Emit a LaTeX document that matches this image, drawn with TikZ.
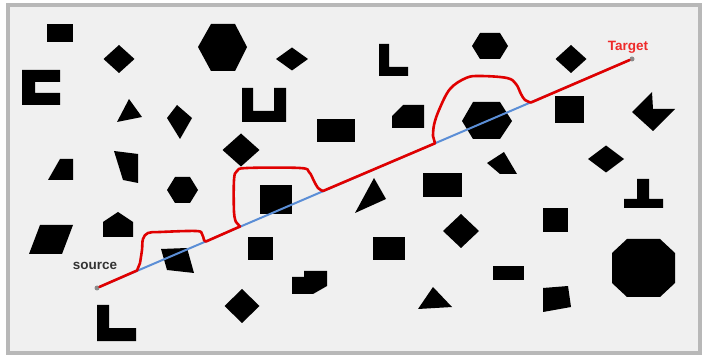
\documentclass[tikz,border=0pt]{standalone}
\usepackage{fontspec}
\newfontfamily\lblfont{Liberation Sans}
\usetikzlibrary{positioning}
\definecolor{cField}{HTML}{F0F0F0}
\definecolor{cFrame}{HTML}{B8B8B8}
\definecolor{cDirect}{HTML}{5B8ED6}
\definecolor{cRoute}{HTML}{E00000}
\definecolor{cTarget}{HTML}{EE2A2A}
\definecolor{cSource}{HTML}{333333}
\definecolor{cDot}{HTML}{8A8A8A}

\begin{document}
\begin{tikzpicture}[
    x=1pt, y=-1pt,
    obst/.style={fill=black},
    frame/.style={draw=cFrame, line width=3.5pt, fill=cField},
    direct/.style={draw=cDirect, line width=2pt},
    route/.style={draw=cRoute, line width=2.6pt, line cap=round, line join=round},
    endpt/.style={circle, fill=cDot, inner sep=0pt, minimum size=5pt},
    lbl/.style={font=\lblfont\bfseries\fontsize{13.5}{15}\selectfont, inner sep=0pt}
]

\fill[white] (0,0) rectangle (710,358);
\useasboundingbox (0,0) rectangle (710,358);
\draw[frame] (8,5) rectangle (700,353);

% obstacles, left to right, row by row
\fill[obst] (47,24) rectangle (73,42);
\fill[obst] (103.5,59) -- (119,45) -- (134.5,59) -- (119,73) -- cycle;
\fill[obst] (198,47) -- (211,24) -- (235,24) -- (247,47) -- (235,71) -- (211,71) -- cycle;
\fill[obst] (276,59) -- (292,47.5) -- (308,59) -- (292,70.5) -- cycle;
\fill[obst] (379,44) -- (389,44) -- (389,67) -- (408,67) -- (408,76) -- (379,76) -- cycle;
\fill[obst] (472,46) -- (480,33) -- (500,33) -- (508,46) -- (500,59) -- (480,59) -- cycle;
\fill[obst] (555.5,59) -- (571,45) -- (586.5,59) -- (571,73) -- cycle;

\fill[obst] (22,70) -- (60,70) -- (60,82) -- (35,82) -- (35,93) -- (60,93) -- (60,105) -- (22,105) -- cycle;
\fill[obst] (129,99) -- (142,117) -- (117,122) -- cycle;
\fill[obst] (177,105) -- (192,118) -- (180,139) -- (167,118) -- cycle;
\fill[obst] (242,88) -- (253,88) -- (253,111) -- (274,111) -- (274,88) -- (286,88) -- (286,122) -- (242,122) -- cycle;
\fill[obst] (317,119) rectangle (355,142);
\fill[obst] (392,116) -- (403,105) -- (424,105) -- (424,128) -- (392,128) -- cycle;
\fill[obst] (462,121) -- (473,102) -- (500,102) -- (512,121) -- (500,139) -- (473,139) -- cycle;
\fill[obst] (555,96) rectangle (584,123);
\fill[obst] (652,92) -- (653,109) -- (675,109) -- (653,131) -- (632,112) -- cycle;

\fill[obst] (60,159) -- (73,159) -- (73,180) -- (48,180) -- cycle;
\fill[obst] (114,151) -- (138,154) -- (138,183) -- (123,180) -- cycle;
\fill[obst] (167,190) -- (175,177) -- (190,177) -- (198,190) -- (190,203) -- (175,203) -- cycle;
\fill[obst] (222.5,150) -- (241,133.5) -- (259.5,150) -- (241,166.5) -- cycle;
\fill[obst] (260,185) rectangle (292,214);
\fill[obst] (374,178) -- (386,199) -- (355,213) -- cycle;
\fill[obst] (423,173) rectangle (462,197);
\fill[obst] (504,152) -- (517,174) -- (500,174) -- (487,163) -- cycle;
\fill[obst] (588,159) -- (606,145.5) -- (624,159) -- (606,172.5) -- cycle;
\fill[obst] (637,179) -- (649,179) -- (649,199) -- (663,199) -- (663,208) -- (624,208) -- (624,199) -- (637,199) -- cycle;

\fill[obst] (40,225) -- (73,225) -- (62,254) -- (29,254) -- cycle;
\fill[obst] (118,212) -- (133,222) -- (133,237) -- (103,237) -- (103,222) -- cycle;
\fill[obst] (161,249) -- (187,248) -- (194,273) -- (167,270) -- cycle;
\fill[obst] (248,237) rectangle (273,260);
\fill[obst] (373,237) rectangle (405,260);
\fill[obst] (443,231) -- (461,214) -- (479,231) -- (461,248) -- cycle;
\fill[obst] (543,208) rectangle (568,232);
\fill[obst] (627,239) -- (660,239) -- (675,253) -- (675,283) -- (660,297) -- (627,297) -- (612,283) -- (612,253) -- cycle;

\fill[obst] (97,305) -- (109,305) -- (109,328) -- (136,328) -- (136,341) -- (97,341) -- cycle;
\fill[obst] (224.5,306) -- (242,289) -- (259.5,306) -- (242,323) -- cycle;
\fill[obst] (292,277) -- (304,277) -- (304,271) -- (327,271) -- (327,286) -- (313,294) -- (292,294) -- cycle;
\fill[obst] (433,287) -- (452,307) -- (418,309) -- cycle;
\fill[obst] (493,266) rectangle (524,280);
\fill[obst] (543,288) -- (568,286) -- (571,307) -- (543,312) -- cycle;

% end points
\node[endpt] (source) at (97,288) {};
\node[endpt] (target) at (632,59) {};
\node[lbl, text=cSource, above=15pt of source, xshift=-2pt] (sourcelbl) {source};
\node[lbl, text=cTarget, above=3pt of target, xshift=-4pt] (targetlbl) {Target};

\draw[direct] (source) -- (target);

\draw[route] (source) -- (137,270.5)
  -- plot[smooth, tension=.6] coordinates {(140,263) (142,250) (143,239) (148,233) (160,232) (196,231) (202,234) (204,240) (206,241.5)}
  -- (240,226.5)
  -- plot[smooth, tension=.6] coordinates {(236,222) (234,212) (234,180) (237,171) (247,168) (300,168) (309,172) (314,181) (318,188) (323,191)}
  -- (435,143.3)
  -- plot[smooth, tension=.6] coordinates {(433,136) (434,125) (439,110) (450,89) (466,78) (480,76) (507,78) (516,84) (521,94) (525,100) (531,102.5)}
  -- (target);

\end{tikzpicture}
\end{document}
